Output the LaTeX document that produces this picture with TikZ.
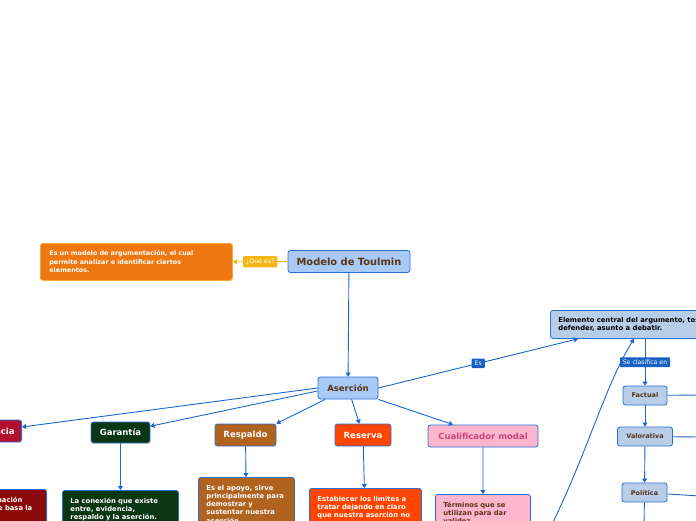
\documentclass[tikz,border=0pt]{standalone}
\usepackage{fontspec}
\setmainfont{DejaVu Sans}
\usetikzlibrary{arrows.meta}

\definecolor{linkblue}{HTML}{1A66CC}
\definecolor{edgeblue}{HTML}{2A6FD6}
\definecolor{topicblue}{HTML}{A9C9F7}
\definecolor{steelblue}{HTML}{B7CDE8}
\definecolor{topicbrown}{HTML}{5A3513}
\definecolor{labelblue}{HTML}{1561C4}
\definecolor{qyellow}{HTML}{F5B716}
\definecolor{deforange}{HTML}{EE7711}
\definecolor{defedge}{HTML}{F5A833}
\definecolor{evcrimson}{HTML}{B30F2E}
\definecolor{evdark}{HTML}{8A0A0A}
\definecolor{garagreen}{HTML}{0B3614}
\definecolor{respbrown}{HTML}{B0621F}
\definecolor{resred}{HTML}{FF4500}
\definecolor{cualpink}{HTML}{FDB6CE}
\definecolor{cualtext}{HTML}{C8457A}

\begin{document}
\begin{tikzpicture}[
        x = 1pt, y = -1pt,
        >= {Triangle[length = 4pt, width = 5pt]},
        box/.style = {draw = edgeblue, line width = 0.8pt, rounded corners = 2.5pt, inner sep = 0pt},
        topic/.style = {box, fill = topicblue, text = topicbrown, font = \bfseries\fontsize{8.5}{10}\selectfont, minimum height = 22pt},
        sub/.style = {box, fill = steelblue, text = topicbrown, font = \bfseries\fontsize{6.5}{7.5}\selectfont, minimum height = 19pt},
        branch/.style = {box, text = white, font = \bfseries\fontsize{8.5}{10}\selectfont, minimum height = 22pt},
        note/.style = {box, text = white, font = \bfseries\fontsize{6.8}{8.3}\selectfont, align = left, anchor = north west, inner xsep = 8pt, inner ysep = 7.5pt, text depth = 55pt},
        link/.style = {draw = linkblue, line width = 0.9pt, ->},
        tag/.style = {fill = labelblue, text = white, font = \fontsize{6.2}{7}\selectfont, rounded corners = 1pt, inner xsep = 3pt, inner ysep = 2.5pt}
    ]

    \useasboundingbox (0, 0) rectangle (696, 520);
    \clip (0, 0) rectangle (696, 520);

    % centro y definicion
    \node[topic, minimum width = 122pt, font = \bfseries\fontsize{9.9}{11}\selectfont] (toulmin) at (349, 261.5) {Modelo de Toulmin};
    \node[box, draw = defedge, fill = deforange, text = white, align = left, anchor = north west, text width = 174pt, inner xsep = 9pt, minimum height = 37pt, font = \bfseries\fontsize{6.4}{8.5}\selectfont] (definicion) at (40, 243)
        {Es un modelo de argumentación, el cual\\permite analizar e identificar ciertos\\elementos.};
    \node[topic, minimum width = 60pt] (asercion) at (348, 388) {Aserción};

    % elementos
    \node[branch, fill = evcrimson, minimum width = 60pt, anchor = east] (evidencia) at (22, 431) {Evidencia};
    \node[branch, fill = garagreen, minimum width = 59pt, minimum height = 21pt] (garantia) at (120.5, 432.5) {Garantía};
    \node[branch, fill = respbrown, minimum width = 61pt] (respaldo) at (245.5, 435) {Respaldo};
    \node[branch, fill = resred, minimum width = 56pt] (reserva) at (363, 435) {Reserva};
    \node[branch, fill = cualpink, text = cualtext, minimum width = 110pt] (cualificador) at (483, 436) {Cualificador modal};

    % descripciones
    \node[note, fill = evdark, text width = 82pt, anchor = north east] (evidesc) at (47, 489)
        {Es la información\\en la que se basa la\\aserción.};
    \node[note, fill = garagreen, text width = 100pt] (garadesc) at (62, 490)
        {La conexión que existe\\entre, evidencia,\\respaldo y la aserción.};
    \node[note, fill = respbrown, text width = 80pt] (respdesc) at (198, 477)
        {Es el apoyo, sirve\\principalmente para\\demostrar y\\sustentar nuestra\\aserción.};
    \node[note, fill = resred, text width = 96pt] (resdesc) at (309, 488)
        {Establecer los limites a\\tratar dejando en claro\\que nuestra aserción no};
    \node[note, fill = cualpink, text = topicbrown, text width = 79pt] (cualdesc) at (435, 494)
        {Términos que se\\utilizan para dar\\validez};

    % tesis y clasificacion
    \node[box, fill = steelblue, text = black, font = \bfseries\fontsize{6.8}{8.3}\selectfont, align = left, anchor = north west, inner xsep = 8pt, minimum height = 28pt] (elemento) at (550, 310)
        {Elemento central del argumento, tesis a\\defender, asunto a debatir.};
    \node[sub, minimum width = 44pt] (factual) at (645, 395.5) {Factual};
    \node[sub, minimum width = 55pt] (valorativa) at (645, 436.5) {Valorativa};
    \node[sub, minimum width = 45pt] (politica) at (644.5, 492.5) {Política};

    \coordinate (factualfin) at (700, 395);
    \coordinate (valorativafin) at (700, 437);
    \coordinate (politicafin) at (700, 496);
    \coordinate (politicabajo) at (644, 530);
    \coordinate (curvainicio) at (548, 532);

    % conectores
    \draw[draw = qyellow, fill = qyellow, line width = 0.9pt, ->] (toulmin) -- node[fill = qyellow, text = white, font = \fontsize{6.2}{7}\selectfont, rounded corners = 1pt, inner xsep = 3pt, inner ysep = 2.5pt] {¿Qué es?} (definicion);
    \draw[link] (toulmin) -- (asercion);
    \draw[link] (asercion.west) -- (evidencia);
    \draw[link] ([yshift = -3pt]asercion.west) -- (garantia);
    \draw[link] (asercion) -- (respaldo.north east);
    \draw[link] (asercion) -- (reserva);
    \draw[link] (asercion.south east) -- ([xshift = -30pt]cualificador.north);
    \draw[link] (asercion.east) -- node[tag] {Es} ([xshift = 28pt]elemento.south west);

    \draw[link] (garantia) -- (garadesc);
    \draw[link] (respaldo) -- (respdesc);
    \draw[link] (reserva) -- (resdesc);
    \draw[link] (cualificador) -- (cualdesc);

    \draw[link] (factual |- elemento.south) -- node[tag] {Se clasifica en} (factual);
    \draw[link] (factual) -- (valorativa);
    \draw[link] (valorativa) -- (politica);
    \draw[draw = linkblue, line width = 0.9pt] (factual) -- (factualfin);
    \draw[draw = linkblue, line width = 0.9pt] (valorativa) -- (valorativafin);
    \draw[draw = linkblue, line width = 0.9pt] (politica) -- (politicafin);
    \draw[draw = linkblue, line width = 0.9pt] (politica) -- (politicabajo);
    \draw[link] (curvainicio) .. controls (585, 460) and (605, 385) .. ([xshift = 84pt]elemento.south west);

\end{tikzpicture}
\end{document}
